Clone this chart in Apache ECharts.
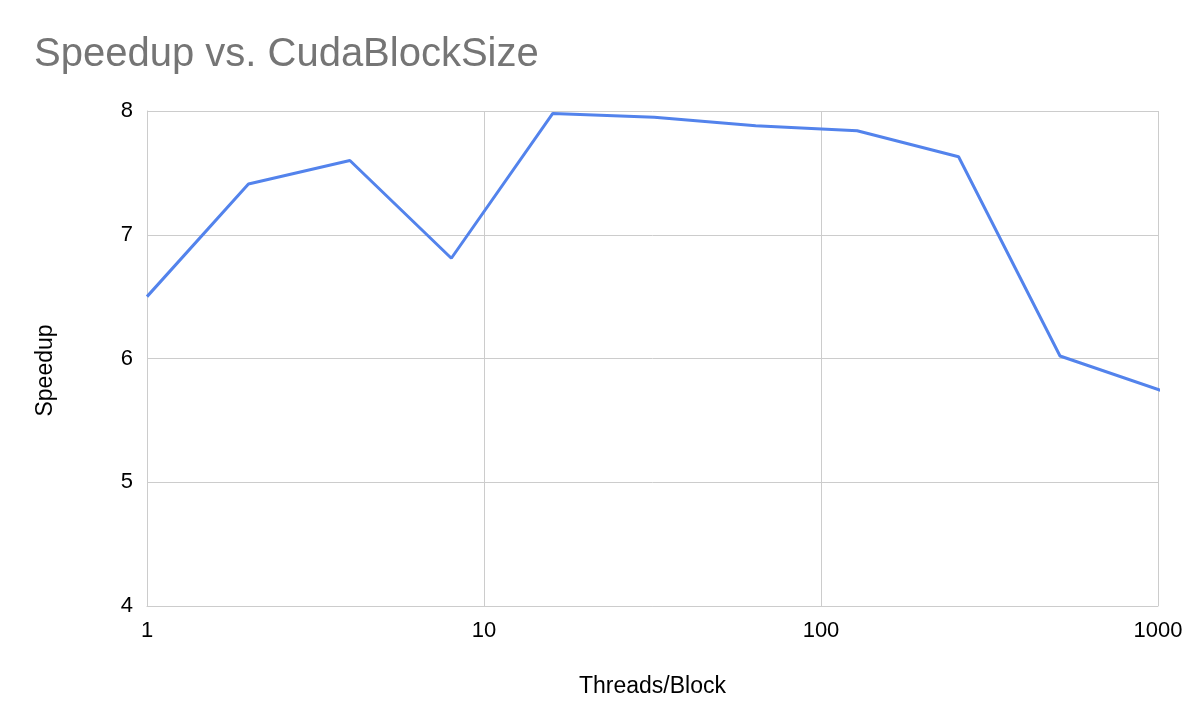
<!DOCTYPE html>
<html>
<head>
<meta charset="utf-8">
<title>Speedup vs. CudaBlockSize</title>
<script src="https://cdn.jsdelivr.net/npm/echarts@6/dist/echarts.min.js"></script>
<style>
    html, body { margin: 0; padding: 0; background: #fff; }
    #chart { width: 1192px; height: 728px; }
</style>
</head>
<body>
<div id="chart"></div>
<script>
// threads per block (log scale) and measured speedup
const threads = [1, 2, 4, 8, 16, 32, 64, 128, 256, 512, 1024];
const speedup = [6.5, 7.41, 7.6, 6.81, 7.98, 7.95, 7.88, 7.84, 7.63, 6.02, 5.74];

const FONT = '"Liberation Sans", Arial, sans-serif';

let points = threads.map((t, i) => [t, speedup[i]]);

let chart = echarts.init(document.getElementById('chart'));
chart.setOption({
    animation: false,
    backgroundColor: '#ffffff',
    title: {
        text: 'Speedup vs. CudaBlockSize',
        left: 29,
        top: 30,
        textStyle: {
            fontFamily: FONT,
            fontSize: 40,
            fontWeight: 'normal',
            color: '#757575',
        },
    },
    grid: {
        left: 147,
        right: 34,
        top: 111,
        bottom: 122,
    },
    xAxis: {
        type: 'log',
        logBase: 10,
        min: 1,
        max: 1000,
        name: 'Threads/Block',
        nameLocation: 'middle',
        nameGap: 69,
        nameTextStyle: { fontFamily: FONT, fontSize: 23, color: '#000' },
        axisLine: { show: true, lineStyle: { color: '#cccccc', width: 1 } },
        axisTick: { show: false },
        axisLabel: {
            fontFamily: FONT, fontSize: 22, color: '#000', margin: 14,
            formatter: (v) => String(Math.round(v)),
        },
        splitLine: { show: true, lineStyle: { color: '#cccccc', width: 1 } },
        minorTick: { show: false },
    },
    yAxis: {
        type: 'value',
        min: 4,
        max: 8,
        interval: 1,
        name: 'Speedup',
        nameLocation: 'middle',
        nameGap: 90,
        nameTextStyle: { fontFamily: FONT, fontSize: 23, color: '#000', padding: [0, 24, 0, 0] },
        axisLine: { show: true, lineStyle: { color: '#cccccc', width: 1 } },
        axisTick: { show: false },
        axisLabel: { fontFamily: FONT, fontSize: 22, color: '#000', margin: 14 },
        splitLine: { show: true, lineStyle: { color: '#cccccc', width: 1 } },
    },
    series: [{
        type: 'line',
        data: points,
        showSymbol: false,
        symbol: 'none',
        clip: true,
        lineStyle: { color: '#5383EC', width: 3 },
        itemStyle: { color: '#5383EC' },
    }],
});
</script>
</body>
</html>
